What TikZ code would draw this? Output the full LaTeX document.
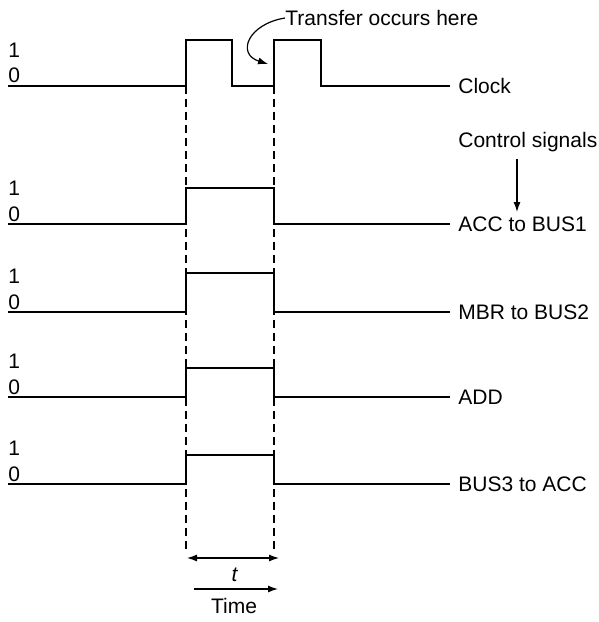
\documentclass[tikz,border=0pt]{standalone}
\usepackage{fontspec}
\setmainfont{Liberation Sans}
\usetikzlibrary{arrows.meta,positioning}

\begin{document}
\begin{tikzpicture}[x=0.5pt,y=-0.5pt,
    font=\fontsize{10.5}{12}\selectfont,
    wave/.style={line width=0.75pt},
    guide/.style={line width=0.6pt,dash pattern=on 4pt off 2.5pt},
    tip/.style={line width=0.6pt,-{Latex[length=5pt,width=3.5pt]}},
    bothtips/.style={line width=0.6pt,{Latex[length=5pt,width=3.5pt]}-{Latex[length=5pt,width=3.5pt]}},
    siglabel/.style={anchor=west,inner sep=0pt},
    levelmark/.style={anchor=west,inner sep=0pt}]
    % edges of the transfer interval
    \pgfmathsetmacro{\tA}{186}
    \pgfmathsetmacro{\tB}{274}
    
    \useasboundingbox (0,0) rectangle (599,622);
    
    % clock
    \draw[wave] (8,86) -- (\tA,86) -- (\tA,40) -- (232,40) -- (232,86)
        -- (\tB,86) -- (\tB,40) -- (321,40) -- (321,86) -- (450,86);
    \node[siglabel] (clk) at (458,86) {Clock};
    \node[levelmark] (clk_1) at (8,50) {1};
    \node[levelmark] (clk_0) at (8,75) {0};
    
    % control signals
    \foreach \base/\high/\name/\txt in {224/188/acc/ACC to BUS1,
        312/273/mbr/MBR to BUS2, 397/368/add/ADD, 484/455/bus/BUS3 to ACC} {
        \draw[wave] (8,\base) -- (\tA,\base) -- (\tA,\high) -- (\tB,\high)
            -- (\tB,\base) -- (450,\base);
        \node[siglabel] (\name) at (458,\base) {\txt};
        \node[levelmark] (\name_1) at (8,{\base-36}) {1};
        \node[levelmark] (\name_0) at (8,{\base-10}) {0};
    }
    
    \draw[guide] (\tA,86) -- (\tA,551) coordinate (low_a);
    \draw[guide] (\tB,86) -- (\tB,551) coordinate (low_b);
    
    % interval and time axis
    \coordinate (span_l) at (187,558);
    \coordinate (span_r) at (279,558);
    \draw[bothtips] (span_l) -- (span_r);
    \node (tlab) at (235,575) {\textit{t}};
    \coordinate (time_l) at (194,589);
    \coordinate (time_r) at (278,589);
    \draw[tip] (time_l) -- (time_r);
    \node (timelab) at (234,606) {Time};
    
    % annotations
    \node[siglabel] (xfer) at (285,18) {Transfer occurs here};
    \coordinate (xfer_tip) at (268,64);
    \draw[tip] (xfer.west) .. controls (248,24) and (236,54) .. (xfer_tip);
    
    \node[siglabel] (ctrl) at (458,142) {Control signals};
    \coordinate (ctrl_tip) at (517,212);
    \draw[tip,shorten <=3.5pt] (ctrl.south -| ctrl_tip) -- (ctrl_tip);
    
\end{tikzpicture}
\end{document}
